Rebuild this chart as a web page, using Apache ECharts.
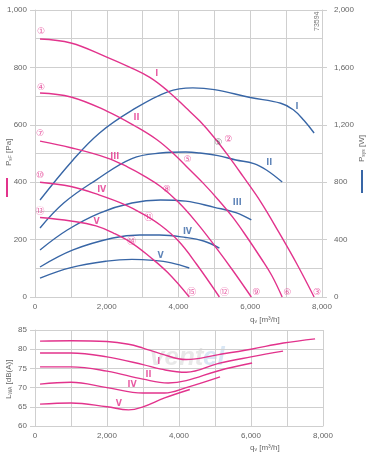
<!DOCTYPE html>
<html>
<head>
<meta charset="utf-8">
<script src="https://cdn.jsdelivr.net/npm/echarts@6/dist/echarts.min.js"></script>
<style>
  html, body { margin: 0; padding: 0; background: #fff; }
  #fanChart { width: 370px; height: 455px; }
</style>
</head>
<body>
<div id="fanChart"></div>
<script>
// pressure curves p_sF [Pa] per speed step
var qP1 = [140, 1000, 2000, 2650, 3200, 3700, 4200, 4600, 5000, 5400, 5800, 6300, 6800, 7300, 7780];
var pP1 = [899, 885, 836, 800, 765, 718, 660, 612, 555, 490, 420, 330, 225, 115, 0];
var qP2 = [140, 1000, 2000, 2800, 3400, 3900, 4300, 4700, 5100, 5500, 5900, 6300, 6600, 6890];
var pP2 = [711, 697, 648, 595, 548, 495, 445, 395, 340, 280, 210, 135, 75, 0];
var qP3 = [140, 1000, 2000, 2600, 3000, 3500, 4000, 4500, 5000, 5500, 6030];
var pP3 = [543, 520, 485, 452, 425, 385, 330, 260, 180, 95, 0];
var qP4 = [140, 1000, 1800, 2500, 3000, 3500, 4000, 4500, 5140];
var pP4 = [400, 385, 355, 322, 290, 250, 195, 115, 0];
var qP5 = [140, 1000, 1700, 2200, 2700, 3200, 3700, 4300];
var pP5 = [277, 265, 248, 222, 188, 140, 85, 0];

// power curves P_sys [W]
var qW1 = [140, 1060, 1800, 2700, 3700, 4400, 5000, 6000, 6850, 7200, 7500, 7780];
var wW1 = [676, 955, 1143, 1300, 1430, 1457, 1445, 1390, 1350, 1305, 1230, 1143];
var qW2 = [140, 800, 1700, 2700, 3500, 4200, 4600, 5100, 5600, 6100, 6450, 6890];
var wW2 = [481, 655, 815, 965, 1003, 1010, 1003, 985, 955, 930, 885, 801];
var qW3 = [140, 900, 1800, 2700, 3500, 4200, 5000, 5600, 6030];
var wW3 = [328, 467, 585, 655, 676, 668, 625, 588, 537];
var qW4 = [140, 1060, 2170, 2920, 3470, 4200, 4700, 5140];
var wW4 = [209, 328, 411, 432, 432, 415, 390, 341];
var qW5 = [140, 1000, 2000, 2700, 3300, 3800, 4300];
var wW5 = [132, 205, 250, 262, 255, 238, 202];

// sound power L_WA [dB(A)]
var qL1 = [140, 1000, 2000, 2600, 3000, 3500, 4200, 5100, 6000, 6900, 7780];
var lL1 = [82.1, 82.2, 82.0, 81.3, 80.3, 78.8, 77.3, 78.6, 80.0, 81.6, 82.7];
var qL2 = [140, 1000, 2000, 3000, 3500, 4200, 5100, 6000, 6890];
var lL2 = [79.0, 79.0, 78.0, 76.0, 74.8, 74.0, 76.3, 78.0, 79.5];
var qL3 = [140, 1000, 2000, 3000, 3700, 4200, 5100, 6030];
var lL3 = [75.4, 75.4, 74.3, 72.2, 71.2, 71.8, 74.4, 76.4];
var qL4 = [140, 1000, 2000, 3000, 3600, 4200, 5140];
var lL4 = [70.9, 71.4, 70.0, 68.6, 68.6, 70.0, 72.8];
var qL5 = [140, 1000, 2000, 2600, 3000, 3600, 4300];
var lL5 = [65.7, 66.0, 65.0, 64.2, 65.0, 67.3, 69.5];

// labels
var romans = ['I', 'II', 'III', 'IV', 'V'];
var pinkRomanQ = [3390, 2830, 2220, 1860, 1720];
var pinkRomanP = [777, 624, 488, 373, 261];
var blueRomanQ = [7300, 6530, 5640, 4250, 3500];
var blueRomanW = [1324, 934, 655, 453, 286];
var soundRomans = ['I', 'II', 'IV', 'V'];
var soundRomanQ = [3440, 3150, 2700, 2330];
var soundRomanL = [76.7, 73.4, 70.6, 65.8];
var circNums = ['①', '④', '⑦', '⑩', '⑬', '②', '⑤', '⑧', '⑪', '⑭', '③', '⑥', '⑨', '⑫', '⑮'];
var circQ = [170, 170, 140, 140, 140, 5390, 4250, 3670, 3170, 2690, 7860, 7030, 6170, 5280, 4360];
var circP = [923, 728, 568, 422, 296, 547, 477, 373, 275, 192, 14, 14, 14, 14, 14];

var PINK = '#e2338c';
var BLUE = '#3866a6';
var GRID = '#cfcfcf';
var TXT = '#666';

function zip(a, b) {
    var out = [];
    for (var i = 0; i < a.length; i++) out.push([a[i], b[i]]);
    return out;
}
function fmt(v) {
    return v.toLocaleString('en-US');
}

var myChart = echarts.init(document.getElementById('fanChart'));

var qsP = [qP1, qP2, qP3, qP4, qP5], psP = [pP1, pP2, pP3, pP4, pP5];
var qsW = [qW1, qW2, qW3, qW4, qW5], wsW = [wW1, wW2, wW3, wW4, wW5];
var qsL = [qL1, qL2, qL3, qL4, qL5], lsL = [lL1, lL2, lL3, lL4, lL5];

var series = [];
function lineSeries(data, color, xi, yi) {
    return {
        type: 'line', smooth: 0.4, showSymbol: false, silent: true,
        xAxisIndex: xi, yAxisIndex: yi,
        lineStyle: {color: color, width: 1.4},
        data: data
    };
}
for (var i = 0; i < 5; i++) {
    series.push(lineSeries(zip(qsW[i], wsW[i]), BLUE, 0, 1));
}
for (var i = 0; i < 5; i++) {
    series.push(lineSeries(zip(qsP[i], psP[i]), PINK, 0, 0));
}
for (var i = 0; i < 5; i++) {
    series.push(lineSeries(zip(qsL[i], lsL[i]), PINK, 1, 2));
}

function labelSeries(names, xs, ys, color, xi, yi, size, bold) {
    var d = [];
    for (var i = 0; i < names.length; i++) d.push({value: [xs[i], ys[i]], name: names[i]});
    return {
        type: 'scatter', symbolSize: 0, silent: true, z: 5,
        xAxisIndex: xi, yAxisIndex: yi,
        label: {
            show: true, position: 'inside', formatter: '{b}',
            color: color, fontSize: size, fontWeight: bold ? 'bold' : 'normal',
            fontFamily: 'DejaVu Sans, Noto Sans CJK SC, sans-serif'
        },
        data: d
    };
}
series.push(labelSeries(romans, pinkRomanQ, pinkRomanP, PINK, 0, 0, 8, true));
series.push(labelSeries(romans, blueRomanQ, blueRomanW, BLUE, 0, 1, 8, true));
series.push(labelSeries(soundRomans, soundRomanQ, soundRomanL, PINK, 1, 2, 8, true));
series.push(labelSeries(circNums, circQ, circP, PINK, 0, 0, 9, false));
series.push(labelSeries(['⑤'], [5110], [537], '#555', 0, 0, 9, false));

var axisLabelStyle = {color: TXT, fontSize: 8, fontFamily: 'Liberation Sans, Arial, sans-serif'};
var nameRich = {
    a: {fill: TXT, fontSize: 8, fontFamily: 'Liberation Sans'},
    b: {fill: TXT, fontSize: 5, fontFamily: 'Liberation Sans', padding: [4, 0, 0, 0]}
};
function nameStyle(txt) {
    return {text: txt, rich: nameRich, fill: TXT, fontSize: 8, fontFamily: 'Liberation Sans'};
}

option = {
    animation: false,
    textStyle: {fontFamily: 'Liberation Sans, Arial, sans-serif'},
    grid: [
        {left: 35, right: 48, top: 10, height: 287, outerBoundsMode: 'none', containLabel: false},
        {left: 35, right: 47, top: 330, height: 96, outerBoundsMode: 'none', containLabel: false}
    ],
    xAxis: [
        {
            type: 'value', gridIndex: 0, min: 0, max: 8000, interval: 2000,
            axisLine: {show: true, lineStyle: {color: GRID}},
            axisTick: {show: false},
            axisLabel: Object.assign({margin: 6, formatter: fmt}, axisLabelStyle),
            splitLine: {show: true, lineStyle: {color: GRID}},
            minorTick: {show: false, splitNumber: 2},
            minorSplitLine: {show: true, lineStyle: {color: GRID}}
        },
        {
            type: 'value', gridIndex: 1, min: 0, max: 8000, interval: 2000,
            axisLine: {show: true, lineStyle: {color: GRID}},
            axisTick: {show: false},
            axisLabel: Object.assign({margin: 6, formatter: fmt}, axisLabelStyle),
            splitLine: {show: true, lineStyle: {color: GRID}},
            minorTick: {show: false, splitNumber: 2},
            minorSplitLine: {show: true, lineStyle: {color: GRID}}
        }
    ],
    yAxis: [
        {
            type: 'value', gridIndex: 0, min: 0, max: 1000, interval: 200,
            axisLine: {show: true, lineStyle: {color: GRID}},
            axisTick: {show: true, length: 5, lineStyle: {color: GRID}},
            axisLabel: Object.assign({margin: 8, formatter: fmt}, axisLabelStyle),
            splitLine: {show: true, lineStyle: {color: GRID}},
            minorTick: {show: false, splitNumber: 2},
            minorSplitLine: {show: true, lineStyle: {color: GRID}}
        },
        {
            type: 'value', gridIndex: 0, min: 0, max: 2000, interval: 400, position: 'right',
            axisLine: {show: true, lineStyle: {color: GRID}},
            axisTick: {show: true, length: 5, lineStyle: {color: GRID}},
            axisLabel: Object.assign({margin: 12, formatter: fmt}, axisLabelStyle),
            splitLine: {show: false}
        },
        {
            type: 'value', gridIndex: 1, min: 60, max: 85, interval: 5,
            axisLine: {show: true, lineStyle: {color: GRID}},
            axisTick: {show: true, length: 5, lineStyle: {color: GRID}},
            axisLabel: Object.assign({margin: 8}, axisLabelStyle),
            splitLine: {show: true, lineStyle: {color: GRID}}
        }
    ],
    graphic: [
        // axis names
        {type: 'text', x: 4, y: 166, rotation: Math.PI / 2, style: nameStyle('{a|P}{b|sF}{a| [Pa]}')},
        {type: 'rect', left: 6, top: 178, shape: {width: 2, height: 19}, style: {fill: PINK}},
        {type: 'text', x: 357, y: 162, rotation: Math.PI / 2, style: nameStyle('{a|P}{b|sys}{a| [W]}')},
        {type: 'rect', left: 361, top: 170, shape: {width: 2, height: 23}, style: {fill: BLUE}},
        {type: 'text', x: 4, y: 399, rotation: Math.PI / 2, style: nameStyle('{a|L}{b|WA}{a| [dB(A)]}')},
        {type: 'text', x: 250, y: 315, style: nameStyle('{a|q}{b|v}{a| [m³/h]}')},
        {type: 'text', x: 250, y: 443, style: nameStyle('{a|q}{b|v}{a| [m³/h]}')},
        {
            type: 'text', x: 314, y: 31, rotation: Math.PI / 2,
            style: {text: '73594', fill: '#777', fontSize: 7, fontFamily: 'Liberation Sans'}
        },
        // faint watermark
        {
            type: 'text', x: 150, y: 345, z: -1,
            style: {text: 'vent', fill: 'rgba(150,150,150,0.22)', font: 'italic bold 26px Liberation Sans'}
        },
        {
            type: 'text', x: 203, y: 345, z: -1,
            style: {text: 'el', fill: 'rgba(120,170,220,0.28)', font: 'italic bold 26px Liberation Sans'}
        }
    ],
    series: series
};

myChart.setOption(option);
</script>
</body>
</html>
